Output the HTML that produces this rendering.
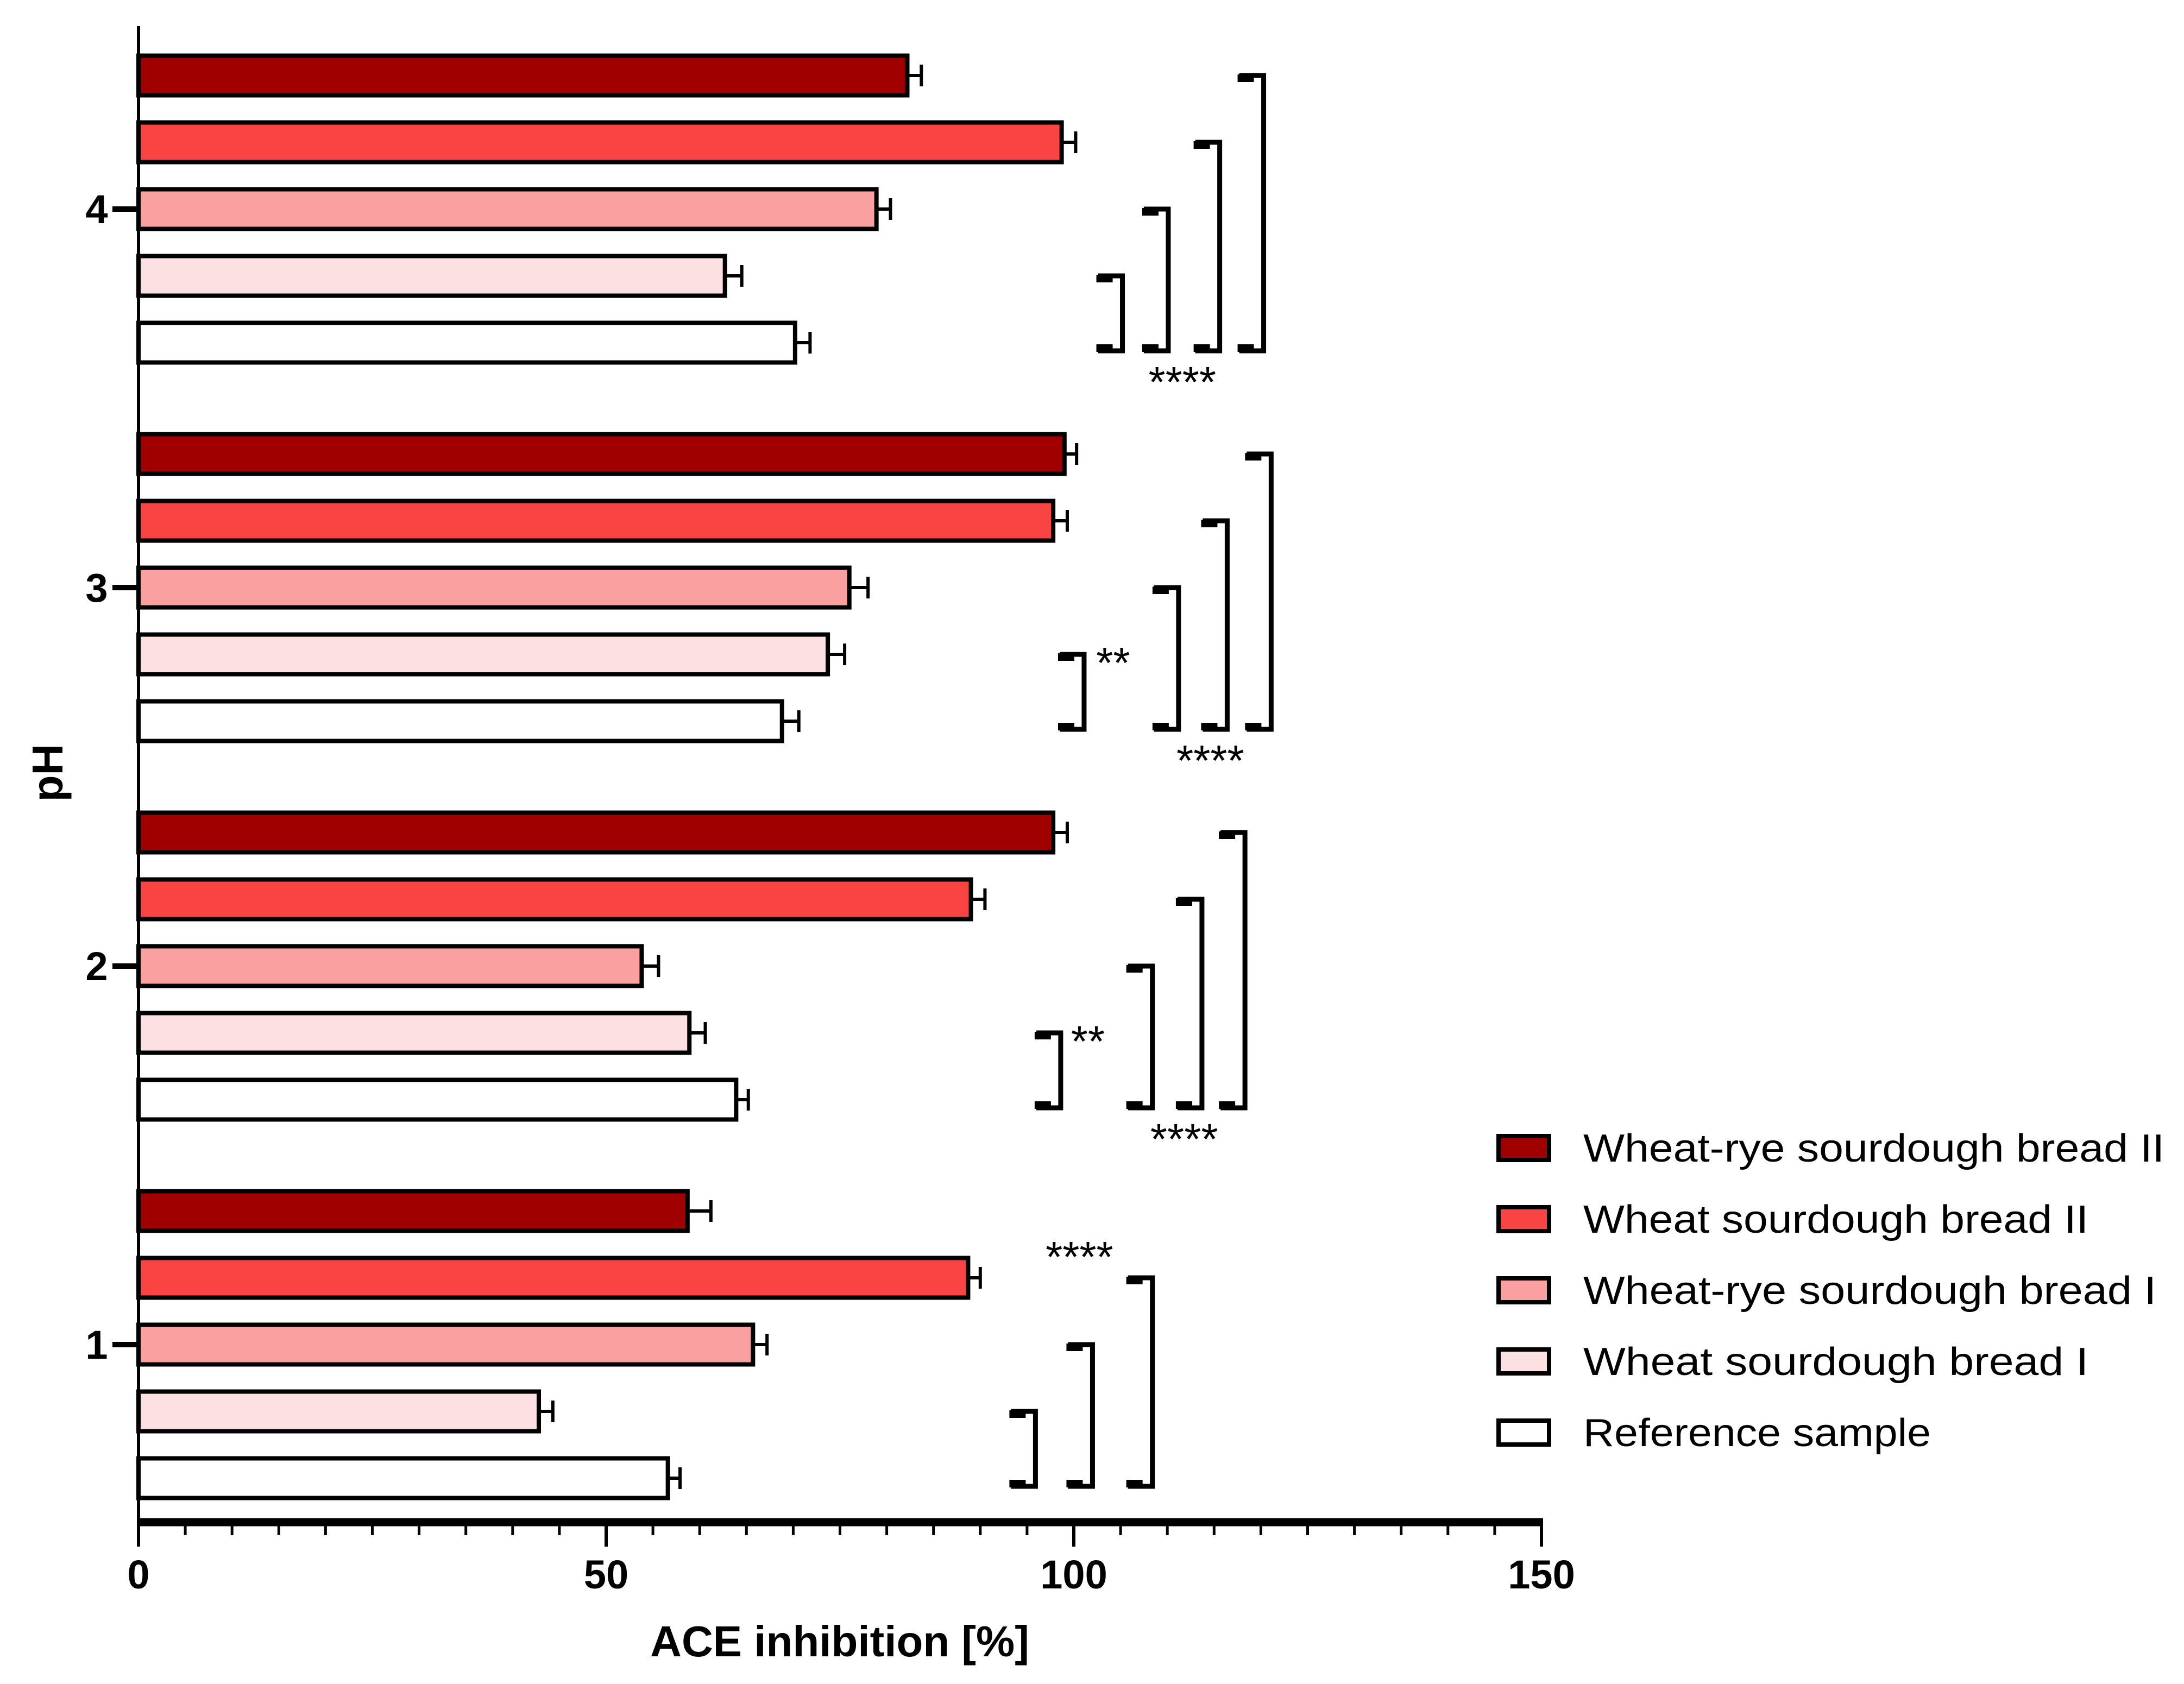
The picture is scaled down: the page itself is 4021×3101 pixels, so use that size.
<!DOCTYPE html>
<html><head><meta charset="utf-8"><style>
html,body{margin:0;padding:0;background:#fff;}
svg{display:block;font-family:"Liberation Sans",Arial,sans-serif;}
</style></head><body>
<svg id="chart" width="4021" height="3101" viewBox="0 0 4021 3101" xmlns="http://www.w3.org/2000/svg">
<g id="bars"></g>
<g id="sig"></g>
<g id="axes"></g>
<g id="legend"></g>
</svg>
<script>
const categories = [4, 3, 2, 1];
const seriesNames = ["Wheat-rye sourdough bread II","Wheat sourdough bread II","Wheat-rye sourdough bread I","Wheat sourdough bread I","Reference sample"];
const seriesColors = ["#a00000","#fa4444","#fba0a0","#fde0e2","#ffffff"];
const wheatRyeII = [82.2, 99.0, 97.8, 58.7];
const wheatII = [98.7, 97.8, 89.0, 88.7];
const wheatRyeI = [78.9, 76.0, 53.8, 65.7];
const wheatI = [62.7, 73.7, 58.9, 42.8];
const reference = [70.2, 68.8, 63.9, 56.6];
const errWheatRyeII = [1.5, 1.3, 1.5, 2.5];
const errWheatII = [1.5, 1.5, 1.5, 1.3];
const errWheatRyeI = [1.5, 2.0, 1.8, 1.5];
const errWheatI = [1.8, 1.8, 1.7, 1.5];
const errReference = [1.6, 1.8, 1.3, 1.3];
const xTicks = [0, 50, 100, 150];
const bracketCat = [4,4,4,4, 3,3,3,3, 2,2,2,2, 1,1,1];
const bracketFrom = [3,2,1,0, 3,2,1,0, 3,2,1,0, 3,2,1];
const bracketX = [105.2,110.1,115.6,120.3, 101.1,111.2,116.4,121.1, 98.6,108.4,113.7,118.3, 95.9,102.0,108.4];
const starLabels = ["****","**","****","**","****","****"];
const starCat = [4,3,3,2,2,1];
const starX = [111.6,104.2,114.6,101.5,111.8,100.6];
const starDy = [85, -95, 85, -95, 85, -395];

const NS="http://www.w3.org/2000/svg";
const X0=255, X1=2838, YTOP=48, YBOT=2803;
const xS=v=>X0+(v-0)*(X1-X0)/150;
const catY=c=>385+(4-c)*697;
const barPitch=123, barH=73;
const barY=(c,i)=>catY(c)+(i-2)*barPitch;
function mk(tag,attrs,parent){const e=document.createElementNS(NS,tag);for(const k in attrs)e.setAttribute(k,attrs[k]);parent.appendChild(e);return e;}
const gB=document.getElementById('bars'), gS=document.getElementById('sig'), gA=document.getElementById('axes'), gL=document.getElementById('legend');
const series=[wheatRyeII,wheatII,wheatRyeI,wheatI,reference];
const errs=[errWheatRyeII,errWheatII,errWheatRyeI,errWheatI,errReference];
categories.forEach((c,ci)=>{
  series.forEach((s,si)=>{
    const y=barY(c,si), v=s[ci], e=errs[si][ci];
    const r=mk('rect',{x:X0,y:y-barH/2,width:xS(v)-X0,height:barH,fill:seriesColors[si],stroke:'#000','stroke-width':8},gB);
    
    
    const eb=mk('path',{d:`M${xS(v)} ${y} H${xS(v+e)} M${xS(v+e)} ${y-20} V${y+20}`,stroke:'#000','stroke-width':6,fill:'none'},gB);
    
    
  });
});
bracketCat.forEach((c,i)=>{
  const x=xS(bracketX[i]), yt=barY(c,bracketFrom[i]), yb=barY(c,4)+15;
  const p=mk('path',{d:`M${x-45} ${yt} H${x} V${yb} H${x-45}`,stroke:'#000','stroke-width':9,fill:'none'},gS);
  
  
  const s1=mk('path',{d:`M${x-48} ${yt-2} h30 v14 h-30z M${x-48} ${yb+2} h30 v-14 h-30z`,fill:'#000'},gS);
  
  
});
starLabels.forEach((t,i)=>{
  const y=barY(starCat[i],4)+15+starDy[i];
  const tx=mk('text',{x:xS(starX[i]),y:y,'font-size':80,'text-anchor':'middle'},gS);
  tx.textContent=t;
  
  
});
let e=mk('line',{x1:X0,y1:YTOP,x2:X0,y2:YBOT+35,stroke:'#000','stroke-width':6},gA);

e=mk('line',{x1:X0-3,y1:YBOT,x2:X1+3,y2:YBOT,stroke:'#000','stroke-width':15},gA);

for(let v=5;v<150;v+=5){ if(v%50===0) continue;
  e=mk('line',{x1:xS(v),y1:YBOT,x2:xS(v),y2:YBOT+24,stroke:'#000','stroke-width':5},gA);
  }
xTicks.forEach(v=>{
  e=mk('line',{x1:xS(v),y1:YBOT,x2:xS(v),y2:YBOT+45,stroke:'#000','stroke-width':6},gA);
  
  e=mk('text',{x:xS(v),y:2925,'font-size':74,'text-anchor':'middle','font-weight':'bold'},gA);
  e.textContent=v;
});
categories.forEach(c=>{
  e=mk('line',{x1:X0-48,y1:catY(c),x2:X0,y2:catY(c),stroke:'#000','stroke-width':10},gA);
  
  e=mk('text',{x:178,y:catY(c)+26,'font-size':74,'text-anchor':'middle','font-weight':'bold'},gA);
  e.textContent=c;
});
e=mk('text',{x:1546,y:3050,'font-size':80,'text-anchor':'middle','font-weight':'bold'},gA);
e.textContent='ACE inhibition [%]';
e=mk('text',{x:0,y:0,'font-size':80,'text-anchor':'middle','font-weight':'bold',transform:'translate(115,1423) rotate(-90)'},gA);
e.textContent='pH';
const legW=[1070,930,1055,930,640];
seriesNames.forEach((n,i)=>{
  const y=2114+i*131;
  const g=mk('g',{},gL);
  
  
  const r=mk('rect',{x:2759,y:y-22,width:93,height:44,fill:seriesColors[i],stroke:'#000','stroke-width':8},g);
  
  const t=mk('text',{x:2915,y:y+25,'font-size':72,textLength:legW[i],lengthAdjust:'spacingAndGlyphs'},g);
  t.textContent=n;
});
</script>
</body></html>
